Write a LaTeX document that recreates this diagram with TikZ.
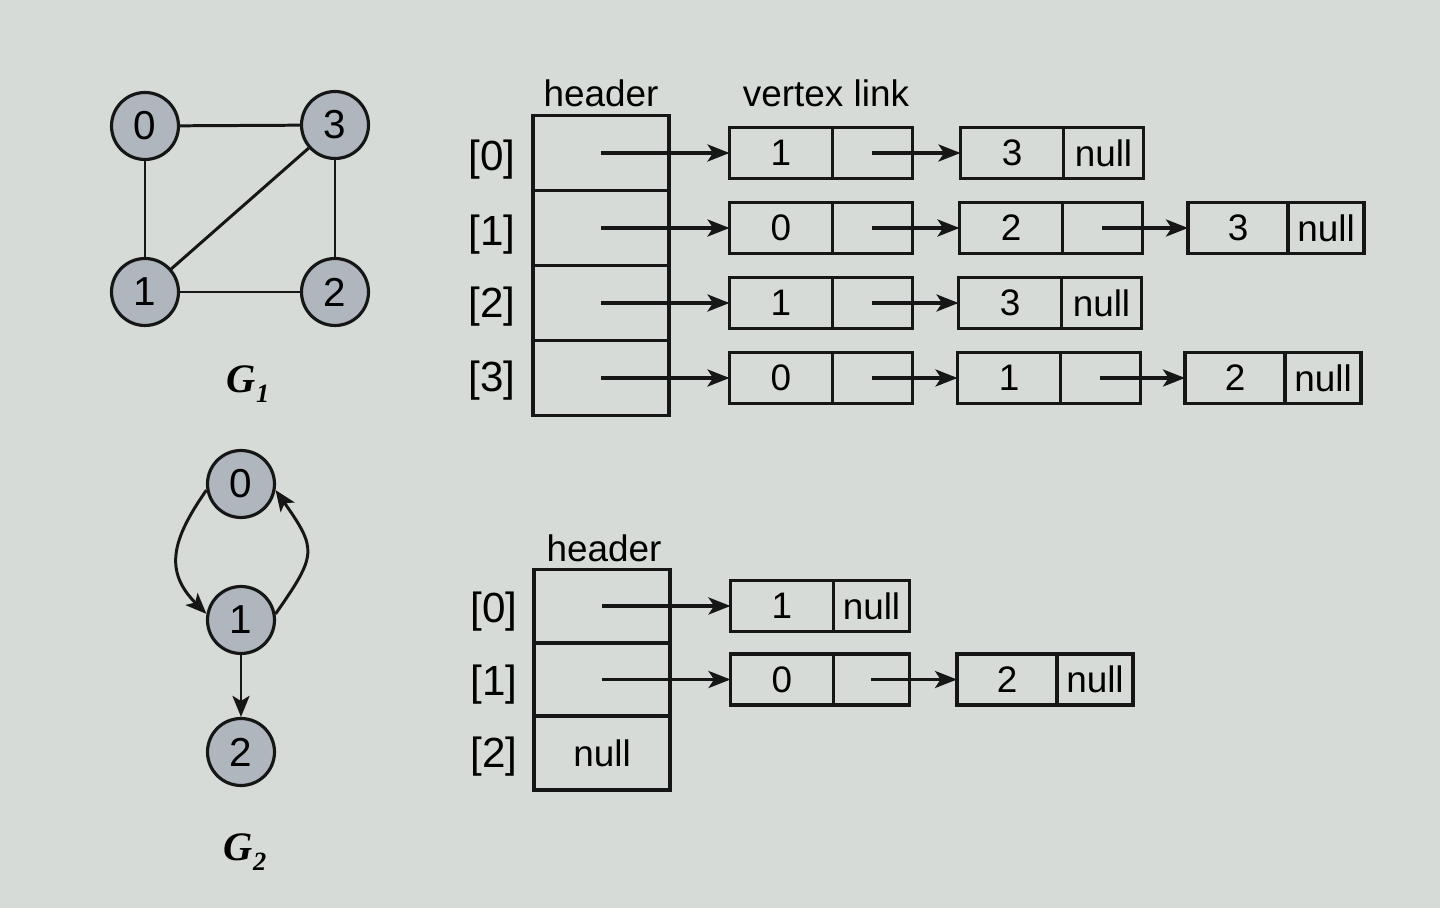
\documentclass[tikz,border=0pt]{standalone}
\usepackage{fontspec}
\setmainfont{Liberation Sans}
\newfontfamily\glabelfont{Liberation Serif}
\usetikzlibrary{arrows.meta,positioning}
\definecolor{paper}{HTML}{D6DBD7}
\definecolor{ink}{HTML}{161616}
\definecolor{vtxgray}{HTML}{B0B6BE}

\begin{document}
\begin{tikzpicture}[x=0.02cm, y=-0.02cm,
    vtx/.style={circle, draw=ink, line width=1.8pt, fill=vtxgray, minimum size=1.34cm,
                inner sep=0pt, font=\fontsize{23}{26}\selectfont},
    edge/.style={draw=ink, line width=1.7pt},
    arc/.style={edge, -{Stealth[length=4.2mm, width=3.4mm, inset=1mm]}},
    hcell/.style={draw=ink, line width=2pt, minimum width=2.72cm, minimum height=1.5cm,
                  outer sep=0pt, inner sep=0pt, font=\fontsize{21}{24}\selectfont},
    dcell/.style={draw=ink, line width=2pt, minimum width=2.06cm, minimum height=1.02cm,
                  outer sep=0pt, inner sep=0pt, font=\fontsize{21}{24}\selectfont},
    lcell/.style={dcell, minimum width=1.6cm},
    dcellb/.style={dcell, minimum width=2.0cm},
    lcellb/.style={dcell, minimum width=1.52cm},
    idx/.style={font=\fontsize{24}{27}\selectfont},
    caption/.style={font=\fontsize{21}{24}\selectfont},
    glabel/.style={font=\glabelfont\bfseries\itshape\fontsize{23}{27}\selectfont},
    arrow/.style={-{Stealth[length=4.4mm, width=3.4mm, inset=1.1mm]}, draw=ink, line width=2pt}
  ]
    \fill[paper] (0,0) rectangle (1440,908);

    % G1
    \node[vtx] (g10) at (145,126) {0};
    \node[vtx] (g13) at (335,125) {3};
    \node[vtx] (g11) at (145,292) {1};
    \node[vtx] (g12) at (335,292) {2};
    \draw[edge] (g10) -- (g13);
    \draw[edge] (g10) -- (g11);
    \draw[edge] (g11) -- (g12);
    \draw[edge] (g13) -- (g12);
    \draw[edge] (g11) -- (g13);
    \node[glabel] (cap1) at (248,384) {G\raisebox{-0.5ex}{\fontsize{15}{17}\selectfont 1}};

    % G2
    \node[vtx] (g20) at (241,484) {0};
    \node[vtx] (g21) at (241,620) {1};
    \node[vtx] (g22) at (241,752) {2};
    \draw[arc] (g20.190) to[out=235, in=135, looseness=1.25] (g21.170);
    \draw[arc] (g21.10) to[out=55, in=-55, looseness=1.5] (g20.-10);
    \draw[arc] (g21) -- (g22);
    \node[glabel] (cap2) at (245,852) {G\raisebox{-0.5ex}{\fontsize{15}{17}\selectfont 2}};

    % adjacency list of G1
    \node[caption] (hd1) at (601,93) {header};
    \node[caption] (vl1) at (826,93) {vertex link};
    \node[hcell] (h10) at (601,153) {};
    \node[hcell] (h11) at (601,228) {};
    \node[hcell] (h12) at (601,303) {};
    \node[hcell] (h13) at (601,378) {};
    \node[idx] (i10) at (492,160) {[0]};
    \node[idx] (i11) at (492,235) {[1]};
    \node[idx] (i12) at (492,307) {[2]};
    \node[idx] (i13) at (492,381) {[3]};

    \node[dcell] (a00d) at (781,153) {1};
    \node[lcell, right=0pt of a00d] (a00l) {};
    \node[dcell] (a01d) at (1012,153) {3};
    \node[lcell, right=0pt of a01d] (a01l) {null};

    \node[dcell] (a10d) at (781,228) {0};
    \node[lcell, right=0pt of a10d] (a10l) {};
    \node[dcell] (a11d) at (1011,228) {2};
    \node[lcell, right=0pt of a11d] (a11l) {};
    \node[dcellb] (a12d) at (1238,228) {3};
    \node[lcellb, right=0pt of a12d] (a12l) {null};

    \node[dcell] (a20d) at (781,303) {1};
    \node[lcell, right=0pt of a20d] (a20l) {};
    \node[dcell] (a21d) at (1010,303) {3};
    \node[lcell, right=0pt of a21d] (a21l) {null};

    \node[dcell] (a30d) at (781,378) {0};
    \node[lcell, right=0pt of a30d] (a30l) {};
    \node[dcell] (a31d) at (1009,378) {1};
    \node[lcell, right=0pt of a31d] (a31l) {};
    \node[dcellb] (a32d) at (1235,378) {2};
    \node[lcellb, right=0pt of a32d] (a32l) {null};

    \draw[arrow] (h10.center) -- (a00d.west);
    \draw[arrow] (h11.center) -- (a10d.west);
    \draw[arrow] (h12.center) -- (a20d.west);
    \draw[arrow] (h13.center) -- (a30d.west);
    \draw[arrow] (a00l.center) -- (a01d.west);
    \draw[arrow] (a10l.center) -- (a11d.west);
    \draw[arrow] (a11l.center) -- (a12d.west);
    \draw[arrow] (a20l.center) -- (a21d.west);
    \draw[arrow] (a30l.center) -- (a31d.west);
    \draw[arrow] (a31l.center) -- (a32d.west);

    % adjacency list of G2
    \node[caption] (hd2) at (604,548) {header};
    \node[hcell, minimum height=1.47cm] (h20) at (602,606) {};
    \node[hcell, minimum height=1.47cm] (h21) at (602,679.5) {};
    \node[hcell, minimum height=1.47cm] (h22) at (602,753) {null};
    \node[idx] (i20) at (494,612) {[0]};
    \node[idx] (i21) at (494,685) {[1]};
    \node[idx] (i22) at (494,757) {[2]};

    \node[dcell] (b00d) at (782,606) {1};
    \node[lcellb, right=0pt of b00d] (b00l) {null};
    \node[dcell] (b10d) at (782,679.5) {0};
    \node[lcellb, right=0pt of b10d] (b10l) {};
    \node[dcellb] (b11d) at (1007,679.5) {2};
    \node[lcellb, right=0pt of b11d] (b11l) {null};

    \draw[arrow] (h20.center) -- (b00d.west);
    \draw[arrow] (h21.center) -- (b10d.west);
    \draw[arrow] (b10l.center) -- (b11d.west);
  \end{tikzpicture}
\end{document}
